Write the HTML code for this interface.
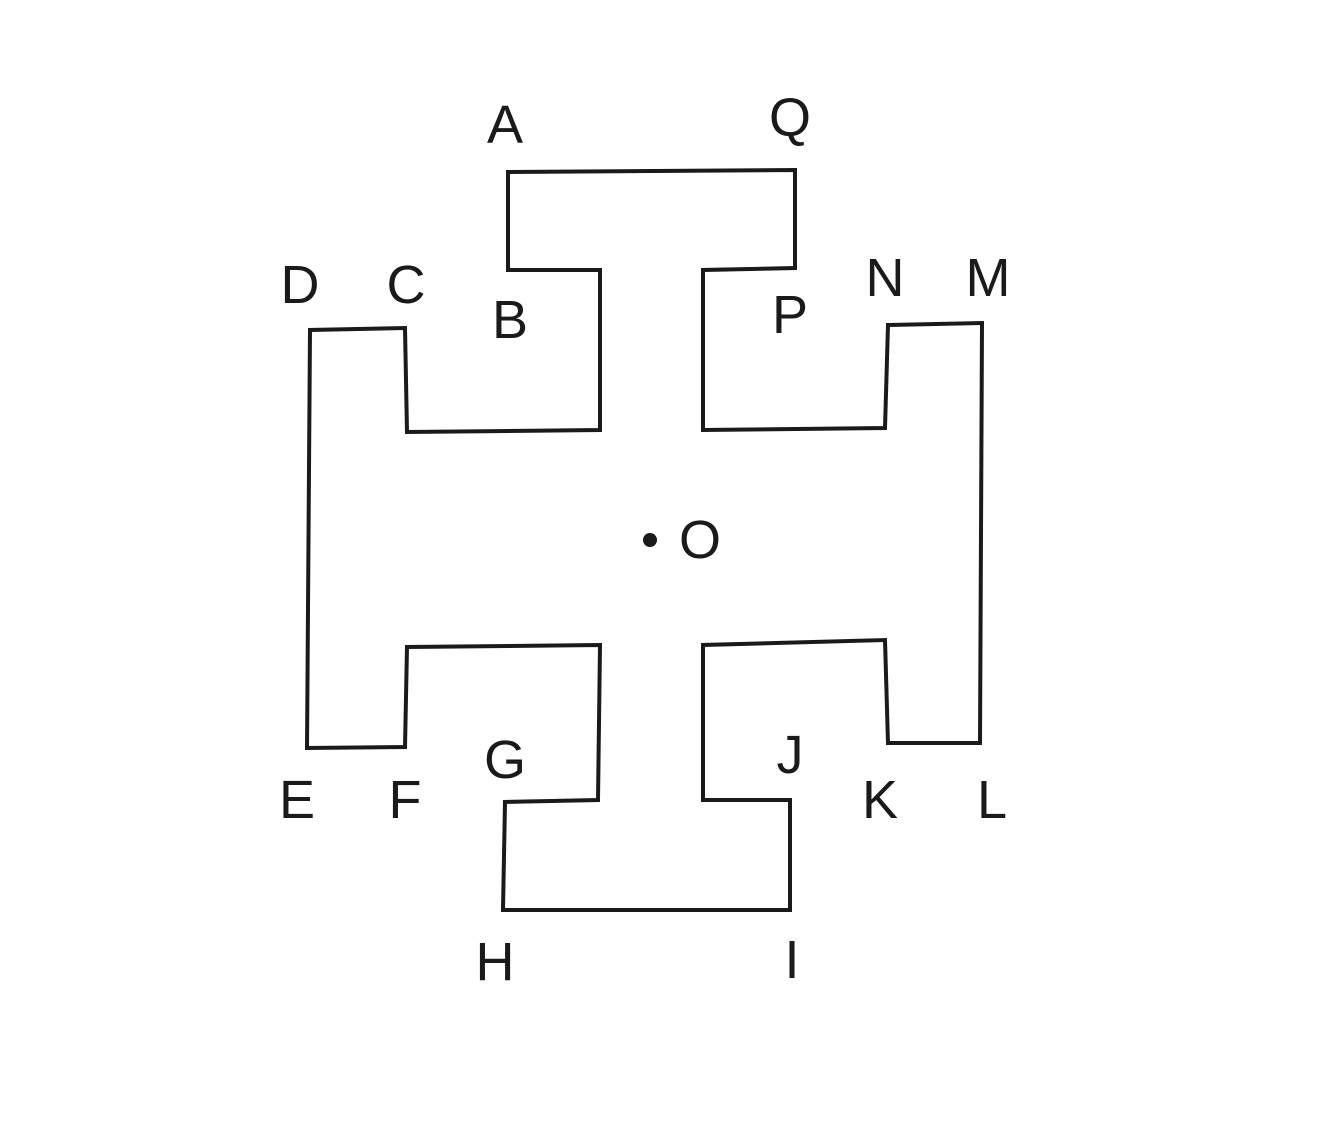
<!DOCTYPE html>
<html><head><meta charset="utf-8"><style>
html,body{margin:0;padding:0;background:#fff;}
svg{display:block;}
text{font-family:"Liberation Sans",sans-serif;font-size:54px;fill:#1a1a1a;}
</style></head><body>
<svg width="1341" height="1142" viewBox="0 0 1341 1142">
<polygon fill="none" stroke="#1a1a1a" stroke-width="4" stroke-linejoin="miter" points="508,172 795,170 795,268 703,270 703,430 885,428 888,325 982,323 980,743 888,743 885,640 703,645 703,800 790,800 790,910 503,910 505,802 598,800 600,645 407,647 405,747 307,748 310,330 405,328 407,432 600,430 600,270 508,270"/>
<circle cx="650" cy="540" r="7" fill="#1a1a1a"/>
<g text-anchor="middle" dominant-baseline="central">
<text x="505" y="125">A</text>
<text x="790" y="118">Q</text>
<text x="300" y="285">D</text>
<text x="406" y="285">C</text>
<text x="510" y="320">B</text>
<text x="790" y="315">P</text>
<text x="885" y="278">N</text>
<text x="988" y="278">M</text>
<text x="700" y="540">O</text>
<text x="297" y="800">E</text>
<text x="405" y="800">F</text>
<text x="505" y="760">G</text>
<text x="790" y="755">J</text>
<text x="880" y="800">K</text>
<text x="992" y="800">L</text>
<text x="495" y="962">H</text>
<text x="792" y="960">I</text>
</g>
</svg>
</body></html>
